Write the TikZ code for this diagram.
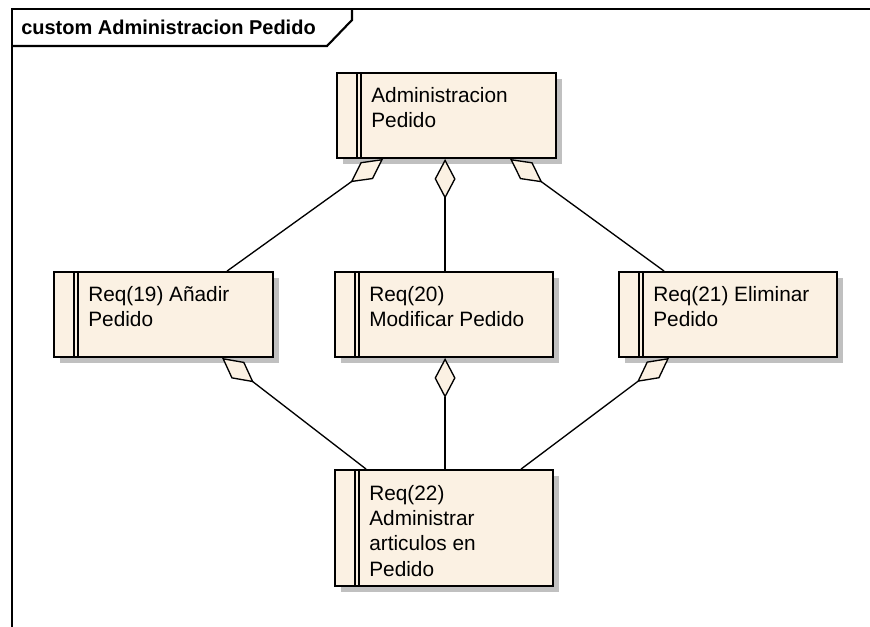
\documentclass[tikz,border=0pt]{standalone}
\usepackage{fontspec}
\setmainfont{Liberation Sans}
\usetikzlibrary{arrows.meta,calc,shadows}

\definecolor{reqfill}{RGB}{251,241,227}
\definecolor{shadowgray}{RGB}{192,192,192}

\tikzset{
  reqbox/.style={
    draw=black, line width=1.4pt, fill=reqfill, rectangle, inner sep=0pt,
    minimum width={219*0.75pt}, minimum height={85*0.75pt},
    drop shadow={shadow xshift=4.5pt, shadow yshift=-4.5pt,
                 fill=shadowgray, opacity=1},
    path picture={
      \draw[line width=1.2pt]
        ([xshift=15pt]path picture bounding box.north west) --
        ([xshift=15pt]path picture bounding box.south west);
      \draw[line width=1.2pt]
        ([xshift=18pt]path picture bounding box.north west) --
        ([xshift=18pt]path picture bounding box.south west);
    }
  },
  reqtext/.style={anchor=base west, inner sep=0pt,
    font=\fontsize{15.6pt}{19pt}\selectfont},
  aggr/.style={draw=black, line width=1pt,
    -{Diamond[length=30pt, width=15.75pt, fill=reqfill, line width=1pt]}},
}

\newcommand{\reqlines}[1]{\begin{tabular}[t]{@{}l@{}}#1\end{tabular}}

\begin{document}
\begin{tikzpicture}[x=0.75pt, y=-0.75pt]
  \useasboundingbox (0,0) rectangle (870,627);

  % diagram frame with its name tab
  \draw[line width=1.6pt] (12,627) -- (12,9) -- (870,9);
  \draw[line width=1.6pt] (12,46) -- (327,46) -- (352,20) -- (352,9);
  \node[anchor=base west, inner sep=0pt,
        font=\fontsize{15pt}{18pt}\selectfont\bfseries] (title) at (21,35)
        {custom Administracion Pedido};

  % requirement boxes
  \node[reqbox] (top) at (446.5,115.5) {};
  \node[reqbox] (add) at (163.5,314.5) {};
  \node[reqbox, minimum width={218*0.75pt}] (mod) at (444,314.5) {};
  \node[reqbox, minimum width={218*0.75pt}] (del) at (728,314.5) {};
  \node[reqbox, minimum width={218*0.75pt}, minimum height={116*0.75pt}] (art) at (444,528) {};

  % box captions
  \node[reqtext] (topT) at ($(top.north west)+(35,30)$)
    {\reqlines{Administracion\\Pedido}};
  \node[reqtext] (addT) at ($(add.north west)+(35,30)$)
    {\reqlines{Req(19) Añadir\\Pedido}};
  \node[reqtext] (modT) at ($(mod.north west)+(35,30)$)
    {\reqlines{Req(20)\\Modificar Pedido}};
  \node[reqtext] (delT) at ($(del.north west)+(35,30)$)
    {\reqlines{Req(21) Eliminar\\Pedido}};
  \node[reqtext] (artT) at ($(art.north west)+(35,31)$)
    {\reqlines{Req(22)\\Administrar\\articulos en\\Pedido}};

  % aggregations into the parent requirement
  \draw[aggr] ($(add.north west)+(174,0)$) -- ($(top.south west)+(47,0)$);
  \draw[aggr] ($(mod.north west)+(111,0)$) -- ($(top.south west)+(109,0)$);
  \draw[aggr] ($(del.north west)+(46,0)$)  -- ($(top.south west)+(174,0)$);

  % aggregations of the shared child requirement
  \draw[aggr] ($(art.north west)+(32,0)$)  -- ($(add.south west)+(169,0)$);
  \draw[aggr] ($(art.north west)+(111,0)$) -- ($(mod.south west)+(111,0)$);
  \draw[aggr] ($(art.north west)+(187,0)$) -- ($(del.south west)+(51,0)$);
\end{tikzpicture}
\end{document}
